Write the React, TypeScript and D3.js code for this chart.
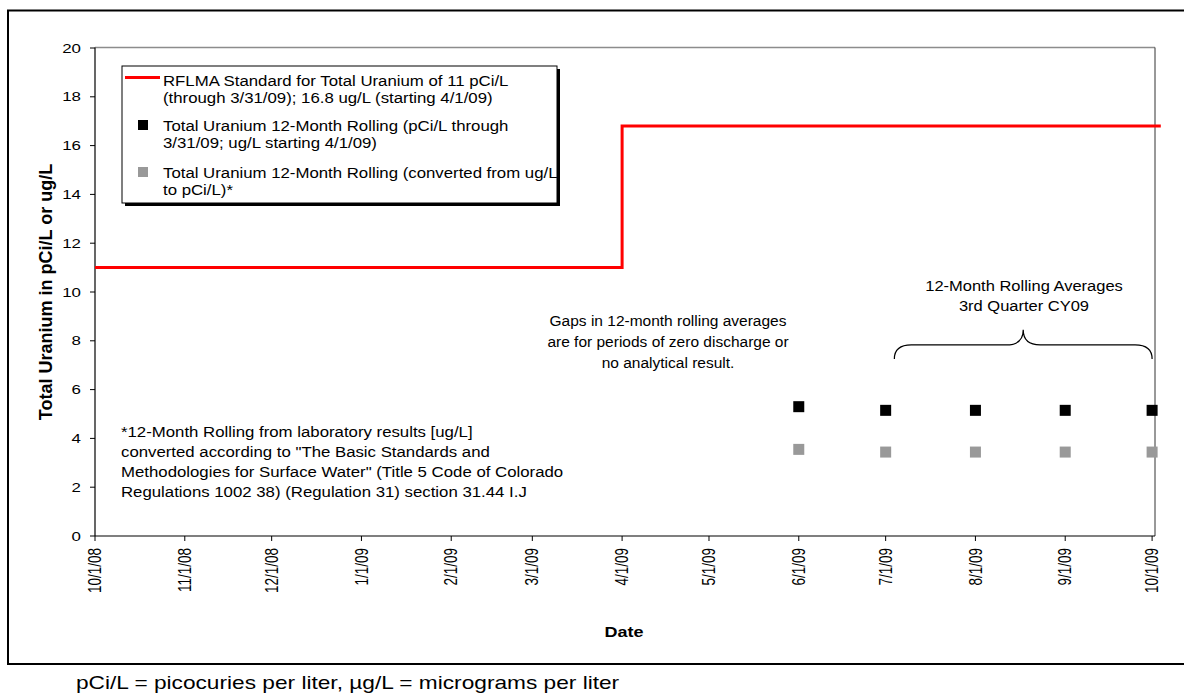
import React from 'react';
import * as d3 from 'd3';

// ---- data ----
const tickDates = [
  '2008-10-01', '2008-11-01', '2008-12-01', '2009-01-01', '2009-02-01', '2009-03-01', '2009-04-01',
  '2009-05-01', '2009-06-01', '2009-07-01', '2009-08-01', '2009-09-01', '2009-10-01',
];
const tickLabels = [
  '10/1/08', '11/1/08', '12/1/08', '1/1/09', '2/1/09', '3/1/09', '4/1/09',
  '5/1/09', '6/1/09', '7/1/09', '8/1/09', '9/1/09', '10/1/09',
];
const yTicks = [0, 2, 4, 6, 8, 10, 12, 14, 16, 18, 20];

// RFLMA standard (step line)
const standardDates = ['2008-10-01', '2009-04-01', '2009-10-04'];
const standardValues = [11, 16.8, 16.8];

// 12-month rolling averages
const rollingDates = ['2009-06-01', '2009-07-01', '2009-08-01', '2009-09-01', '2009-10-01'];
const rollingPci = [5.3, 5.15, 5.15, 5.15, 5.15];
const rollingConverted = [3.55, 3.44, 3.44, 3.44, 3.44];

const legendLabels = [
  ['RFLMA Standard for Total Uranium of 11 pCi/L', '(through 3/31/09); 16.8 ug/L (starting 4/1/09)'],
  ['Total Uranium 12-Month Rolling (pCi/L through', '3/31/09; ug/L starting 4/1/09)'],
  ['Total Uranium 12-Month Rolling (converted from ug/L', 'to pCi/L)*'],
];
const gapNote = ['Gaps in 12-month rolling averages', 'are for periods of zero discharge or', 'no analytical result.'];
const braceNote = ['12-Month Rolling Averages', '3rd Quarter CY09'];
const footNote = [
  '*12-Month Rolling from laboratory results [ug/L]',
  'converted according to "The Basic Standards and',
  'Methodologies for Surface Water" (Title 5 Code of Colorado',
  'Regulations 1002 38) (Regulation 31) section 31.44 I.J',
];
const pageNote = 'pCi/L = picocuries per liter, \u00b5g/L = micrograms per liter';

const FONT = '"Liberation Sans", Arial, Helvetica, sans-serif';
const parse = d3.utcParse('%Y-%m-%d');

// multi-line text, stretched horizontally like the source image
const Lines: React.FC<{
  x: number; y: number; lines: string[]; size: number; lead: number; sx?: number;
  anchor?: 'start' | 'middle' | 'end'; bold?: boolean;
}> = ({ x, y, lines, size, lead, sx = 1, anchor = 'start', bold }) => (
  <text transform={`translate(${x},${y}) scale(${sx},1)`} fontSize={size} textAnchor={anchor}
    fontWeight={bold ? 'bold' : 'normal'} fill="#000">
    {lines.map((s, i) => <tspan key={i} x={0} y={i * lead}>{s}</tspan>)}
  </text>
);

const App: React.FC = () => {
  const width = 1184;
  const height = 694;
  const plot = { left: 95, right: 1155, top: 48, bottom: 536 };

  const x = d3.scaleUtc()
    .domain([parse('2008-10-01')!, parse('2009-10-02')!])
    .range([plot.left, plot.right]);
  const y = d3.scaleLinear().domain([0, 20]).range([plot.bottom, plot.top]);

  const stdLine = d3.line<number>()
    .x((_, i) => x(parse(standardDates[i])!))
    .y(d => y(d))
    .curve(d3.curveStepAfter);

  // brace over 3rd quarter points
  const bx0 = x(parse('2009-07-04')!);
  const bx1 = x(parse('2009-10-01')!);
  const bxm = (bx0 + bx1) / 2;
  const yb = y(7.25), yh = y(7.83), yt = y(8.45);
  const r = 17;
  const brace = `M${bx0},${yb} Q${bx0},${yh} ${bx0 + r},${yh} L${bxm - r},${yh} Q${bxm},${yh} ${bxm},${yt} ` +
    `Q${bxm},${yh} ${bxm + r},${yh} L${bx1 - r},${yh} Q${bx1},${yh} ${bx1},${yb}`;

  const mk = 11;

  return (
    <div style={{ position: 'absolute', left: 0, top: 0 }}>
      <svg width={width} height={height} style={{ display: 'block', background: '#fff' }} fontFamily={FONT}>
        {/* outer frame */}
        <rect x={8} y={10.5} width={1200} height={653.5} fill="none" stroke="#000" strokeWidth={2} />

        {/* plot frame */}
        <line x1={plot.left} x2={plot.right} y1={plot.top - 0.5} y2={plot.top - 0.5} stroke="#8c8c8c" strokeWidth={1.5} />
        <line x1={plot.right} x2={plot.right} y1={plot.top - 0.5} y2={plot.bottom} stroke="#333" strokeWidth={1} />
        <line x1={plot.left} x2={plot.left} y1={plot.top - 0.5} y2={plot.bottom} stroke="#000" strokeWidth={1.2} />
        <line x1={plot.left} x2={plot.right} y1={plot.bottom} y2={plot.bottom} stroke="#000" strokeWidth={1.2} />

        {/* y axis */}
        {yTicks.map(t => (
          <g key={t}>
            <line x1={plot.left - 5} x2={plot.left} y1={y(t)} y2={y(t)} stroke="#000" />
            <text transform={`translate(81,${y(t)}) scale(1.3,1)`} dy="0.36em" textAnchor="end" fontSize={13}>{t}</text>
          </g>
        ))}
        <text transform={`translate(52,${(plot.top + plot.bottom) / 2}) rotate(-90)`} textAnchor="middle"
          fontSize={18} fontWeight="bold">Total Uranium in pCi/L or ug/L</text>

        {/* x axis */}
        {tickDates.map((d, i) => {
          const px = x(parse(d)!);
          return (
            <g key={d}>
              <line x1={px} x2={px} y1={plot.bottom} y2={plot.bottom + 5} stroke="#000" />
              <text transform={`translate(${px},${plot.bottom + 12}) scale(1.3,1) rotate(-90)`} textAnchor="end"
                dominantBaseline="central" fontSize={13.5}>{tickLabels[i]}</text>
            </g>
          );
        })}
        <Lines x={624} y={637} lines={['Date']} size={15} lead={0} sx={1.2} anchor="middle" bold />

        {/* standard line */}
        <path d={stdLine(standardValues) || ''} fill="none" stroke="#ff0000" strokeWidth={3} />

        {/* rolling averages */}
        {rollingDates.map((d, i) => (
          <g key={d}>
            <rect x={x(parse(d)!) - mk / 2} y={y(rollingPci[i]) - mk / 2} width={mk} height={mk} fill="#000" />
            <rect x={x(parse(d)!) - mk / 2} y={y(rollingConverted[i]) - mk / 2} width={mk} height={mk} fill="#999" />
          </g>
        ))}

        {/* annotations */}
        <Lines x={668} y={326} lines={gapNote} size={15.5} lead={20.8} anchor="middle" />
        <Lines x={1024} y={290.5} lines={braceNote} size={15} lead={20.5} sx={1.1} anchor="middle" />
        <path d={brace} fill="none" stroke="#000" strokeWidth={1.2} />
        <Lines x={121} y={437} lines={footNote} size={15} lead={20} sx={1.12} />

        {/* legend */}
        <rect x={125} y={69} width={435} height={137} fill="#000" />
        <rect x={122} y={66} width={435} height={137} fill="#fff" stroke="#000" strokeWidth={1} />
        <line x1={125} x2={160} y1={77.5} y2={77.5} stroke="#ff0000" strokeWidth={3} />
        <rect x={143 - 5} y={125 - 5} width={10} height={10} fill="#000" />
        <rect x={143 - 5} y={172 - 5} width={10} height={10} fill="#999" />
        {legendLabels.map((lines, k) => (
          <Lines key={k} x={163} y={[85.5, 130.5, 177.5][k]} lines={lines} size={15} lead={18} sx={1.12} />
        ))}

        {/* caption below chart */}
        <Lines x={76} y={688.5} lines={[pageNote]} size={18} lead={0} sx={1.26} />
      </svg>
    </div>
  );
};

export default App;
